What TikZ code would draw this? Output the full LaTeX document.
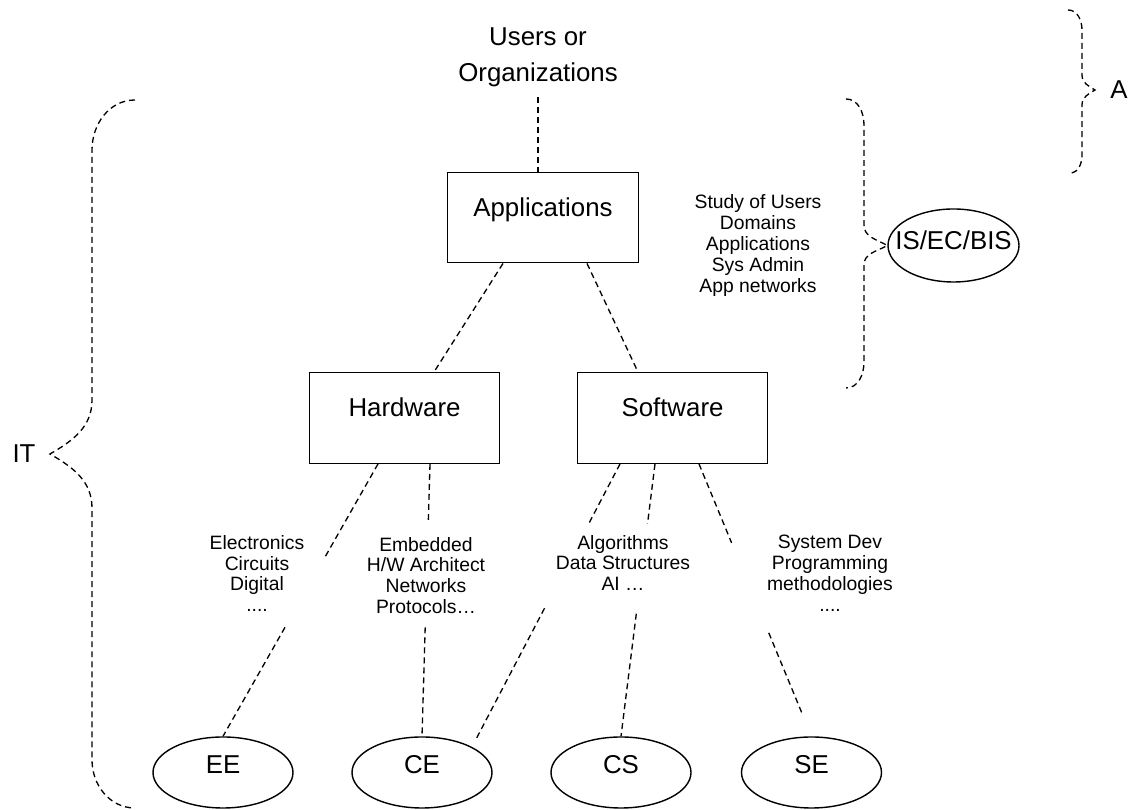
\documentclass[tikz,border=0pt]{standalone}
\usepackage{fontspec}
\setmainfont{Liberation Sans}
\usetikzlibrary{shapes.geometric,calc}

\begin{document}
\begin{tikzpicture}[
    big/.style={font=\fontsize{14.7}{20.5}\selectfont, align=center},
    small/.style={font=\fontsize{11}{11.9}\selectfont, align=center},
    area/.style={draw, line width=0.8pt, big, minimum width=3.81cm, minimum height=1.81cm, text depth=0.42cm, inner sep=0pt},
    field/.style={draw, ellipse, line width=0.8pt, big, minimum width=2.8cm, minimum height=1.42cm, text depth=0.32cm, inner sep=0pt},
    link/.style={line width=0.75pt, dash pattern=on 3.4pt off 2.3pt},
]
            \useasboundingbox (0,0) rectangle (22.74,16.2);

            \node[big] at (10.76,15.06) (users) {Users or\\Organizations};
            \node[area] at (10.86,11.85) (app) {Applications};
            \node[area] at (8.09,7.84) (hw) {Hardware};
            \node[area] at (13.45,7.84) (sw) {Software};
            \node[field] at (4.46,0.75) (ee) {EE};
            \node[field] at (8.44,0.75) (ce) {CE};
            \node[field] at (12.42,0.75) (cs) {CS};
            \node[field] at (16.23,0.75) (se) {SE};
            \node[field, minimum width=2.62cm, minimum height=1.46cm, label={[big, yshift=0.1cm]center:IS/EC/BIS}] at (19.07,11.29) (isec) {};

            \node[small] at (15.16,11.29) (study) {Study of Users\\Domains\\Applications\\Sys Admin\\App networks};
            \node[small] at (5.14,4.73) (elec) {Electronics\\Circuits\\Digital\\....};
            \node[small] at (8.52,4.69) (emb) {Embedded\\H/W Architect\\Networks\\Protocols…};
            \node[small] at (12.46,4.94) (alg) {Algorithms\\Data Structures\\AI …};
            \node[small] at (16.6,4.73) (sysdev) {System Dev\\Programming\\methodologies\\....};

            \node[big] at (0.48,7.12) (it) {IT};
            \node[big] at (22.38,14.4) (a) {A};
            \coordinate (ittip) at (1.0,7.12);
            \coordinate (atip) at (21.9,14.4);

            \draw[link, shorten <=2.5pt] (users.south) -- (users.south |- app.north);
            \draw[link] ([xshift=-0.8cm]app.south) -- ([xshift=0.59cm]hw.north);
            \draw[link] ([xshift=0.88cm]app.south) -- ([xshift=-0.69cm]sw.north);

            \coordinate (hw1) at ([xshift=-0.53cm]hw.south);
            \coordinate (hw2) at ([xshift=0.51cm]hw.south);
            \coordinate (sw1) at ([xshift=-1.05cm]sw.south);
            \coordinate (sw2) at ([xshift=-0.35cm]sw.south);
            \coordinate (sw3) at ([xshift=0.53cm]sw.south);

            \draw[link] (hw1) -- ($(hw1)!.34!(ee.north)$) ($(hw1)!.6!(ee.north)$) -- (ee.north);
            \draw[link] (hw2) -- ($(hw2)!.22!(ce.north)$) ($(hw2)!.6!(ce.north)$) -- (ce.north);
            \draw[link] (sw1) -- ($(sw1)!.21!(ce.north east)$) ($(sw1)!.51!(ce.north east)$) -- ($(sw1)!.97!(ce.north east)$);
            \draw[link] (sw2) -- ($(sw2)!.22!(cs.north)$) ($(sw2)!.55!(cs.north)$) -- (cs.north);
            \draw[link] (sw3) -- ($(sw3)!.29!(se.north)$) ($(sw3)!.62!(se.north)$) -- ($(sw3)!.92!(se.north)$);

            % braces
            \draw[link] (2.7,14.2) to[out=180,in=90] (1.84,13.2) -- (1.84,8.2) to[out=-90,in=30] (ittip) to[out=-30,in=90] (1.84,6.04) -- (1.84,1.0) to[out=-90,in=180] (2.7,0.04);
            \draw[link] (16.92,14.22) to[out=0,in=90] (17.28,13.7) -- (17.28,11.7) to[out=-90,in=150] (isec.west) to[out=-150,in=90] (17.28,10.9) -- (17.28,8.96) to[out=-90,in=0] (16.92,8.44);
            \draw[link] (21.36,16.0) to[out=0,in=90] (21.64,15.6) -- (21.64,14.7) to[out=-90,in=150] (atip) to[out=-150,in=90] (21.64,14.1) -- (21.64,13.1) to[out=-90,in=0] (21.4,12.74);
        \end{tikzpicture}
\end{document}
